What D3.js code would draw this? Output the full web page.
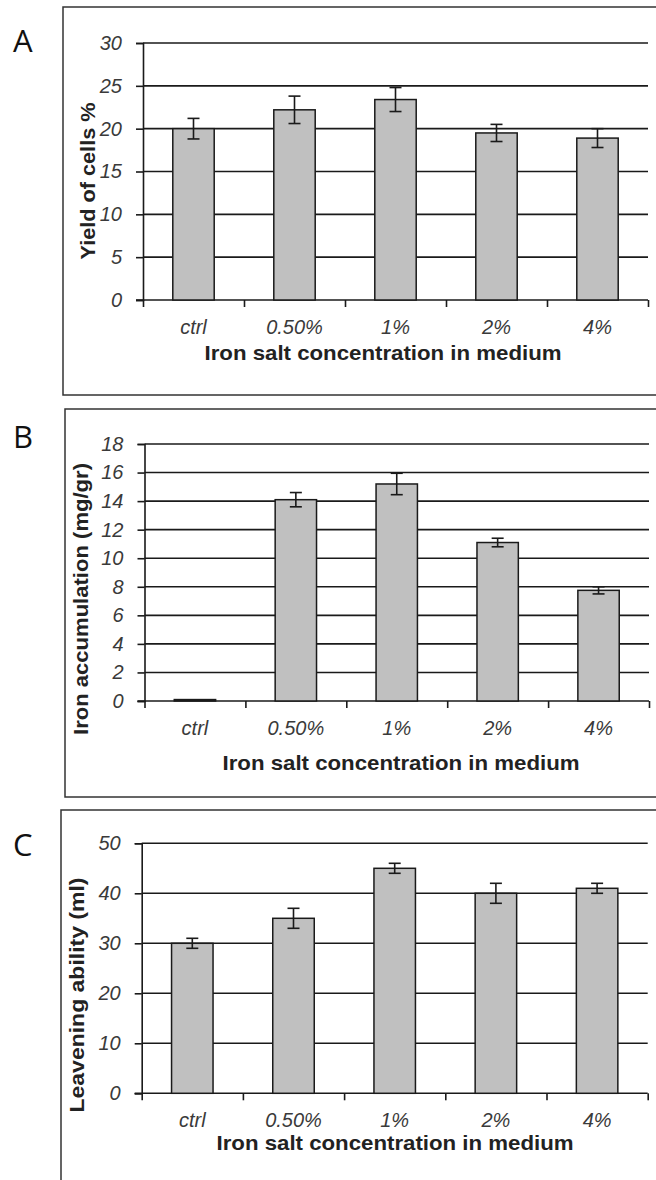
<!DOCTYPE html>
<html>
<head>
<meta charset="utf-8">
<script src="https://cdn.jsdelivr.net/npm/d3@7"></script>
<style>
  html, body { margin: 0; padding: 0; background: #fff; }
  svg { display: block; }
</style>
</head>
<body>
<svg id="chart" width="656" height="1180"></svg>
<script>
// ---------------- DATA ----------------
const categories = ["ctrl", "0.50%", "1%", "2%", "4%"];

const yieldValues = [20.0, 22.2, 23.4, 19.5, 18.9];
const yieldErrors = [1.2, 1.6, 1.4, 1.0, 1.1];
const yieldTicks  = [0, 5, 10, 15, 20, 25, 30];

const ironValues = [0.1, 14.1, 15.2, 11.1, 7.75];
const ironErrors = [0, 0.5, 0.75, 0.3, 0.25];
const ironTicks  = [0, 2, 4, 6, 8, 10, 12, 14, 16, 18];

const leavenValues = [30, 35, 45, 40, 41];
const leavenErrors = [1, 2, 1, 2, 1];
const leavenTicks  = [0, 10, 20, 30, 40, 50];

const xTitle = "Iron salt concentration in medium";

// ---------------- LAYOUT ----------------
const panels = [
  { letter: "A", values: yieldValues, errors: yieldErrors, ticks: yieldTicks,
    yTitle: "Yield of cells %", yTitleLen: 157,
    box: { x: 63, y: 7, h: 388 },
    left: 143, right: 648, top: 43, bottom: 300,
    letterY: 52, xLabelY: 334, xTitleY: 360, xTitleX: 383,
    yTitleX: 95, yTitleY: 181 },
  { letter: "B", values: ironValues, errors: ironErrors, ticks: ironTicks,
    yTitle: "Iron accumulation (mg/gr)", yTitleLen: 272,
    box: { x: 65, y: 409, h: 388 },
    left: 144.5, right: 649, top: 444, bottom: 701,
    letterY: 448, xLabelY: 735, xTitleY: 770, xTitleX: 401,
    yTitleX: 88, yTitleY: 599 },
  { letter: "C", values: leavenValues, errors: leavenErrors, ticks: leavenTicks,
    yTitle: "Leavening ability (ml)", yTitleLen: 235,
    box: { x: 61, y: 810, h: 400 },
    left: 141.7, right: 647.7, top: 843.3, bottom: 1093.3,
    letterY: 856, xLabelY: 1127, xTitleY: 1150, xTitleX: 395,
    yTitleX: 84, yTitleY: 995 }
];

const svg = d3.select("#chart");
const ink = "#1a1a1a";
const FONT = "'Liberation Sans', Arial, sans-serif";

panels.forEach(p => {
  const g = svg.append("g");

  // frame
  g.append("rect")
    .attr("x", p.box.x).attr("y", p.box.y)
    .attr("width", 700).attr("height", p.box.h)
    .attr("fill", "none").attr("stroke", "#333").attr("stroke-width", 1.5);

  // panel letter
  g.append("text")
    .attr("x", 13).attr("y", p.letterY)
    .attr("font-family", "'Open Sans', 'Noto Sans', sans-serif")
    .attr("font-size", 31).attr("fill", "#111")
    .text(p.letter);

  const yMax = d3.max(p.ticks);
  const y = d3.scaleLinear().domain([0, yMax]).range([p.bottom, p.top]);
  const x = d3.scaleBand().domain(categories)
    .range([p.left, p.right]).paddingInner(0.59).paddingOuter(0.295);
  const xb = d3.scaleLinear().domain([0, categories.length]).range([p.left, p.right]);

  // gridlines
  g.append("g").selectAll("line").data(p.ticks.filter(t => t > 0)).join("line")
    .attr("x1", p.left).attr("x2", p.right)
    .attr("y1", d => y(d)).attr("y2", d => y(d))
    .attr("stroke", ink).attr("stroke-width", 1.6);

  // y axis
  const ya = g.append("g").attr("transform", `translate(${p.left},0)`)
    .call(d3.axisLeft(y).tickValues(p.ticks).tickSize(7).tickPadding(14));
  ya.select(".domain").attr("stroke", ink).attr("stroke-width", 1.6);
  ya.selectAll(".tick line").attr("stroke", ink).attr("stroke-width", 1.6);
  ya.selectAll(".tick text")
    .attr("font-family", FONT).attr("font-style", "italic")
    .attr("font-size", 20).attr("fill", "#3a3a3a");

  // x axis tick marks at category boundaries
  const xa = g.append("g").attr("transform", `translate(0,${p.bottom})`)
    .call(d3.axisBottom(xb).tickValues(d3.range(categories.length + 1))
      .tickSize(7).tickFormat(""));
  xa.select(".domain").remove();
  xa.selectAll(".tick line").attr("stroke", ink).attr("stroke-width", 1.6);
  g.append("line")
    .attr("x1", p.left - 7).attr("x2", p.right)
    .attr("y1", p.bottom).attr("y2", p.bottom)
    .attr("stroke", ink).attr("stroke-width", 1.6);

  // x category labels
  g.append("g").selectAll("text").data(categories).join("text")
    .attr("x", d => x(d) + x.bandwidth() / 2)
    .attr("y", p.xLabelY)
    .attr("text-anchor", "middle")
    .attr("font-family", FONT).attr("font-style", "italic")
    .attr("font-size", 20).attr("fill", "#3a3a3a")
    .text(d => d);

  // bars
  const rows = categories.map((c, i) => ({ c, v: p.values[i], e: p.errors[i] }));
  g.append("g").selectAll("rect").data(rows).join("rect")
    .attr("x", d => x(d.c)).attr("width", x.bandwidth())
    .attr("y", d => y(d.v)).attr("height", d => y(0) - y(d.v))
    .attr("fill", "#c0c0c0").attr("stroke", ink).attr("stroke-width", 1.5);

  // error bars
  const eb = g.append("g").selectAll("g").data(rows.filter(d => d.e > 0)).join("g")
    .attr("stroke", ink).attr("stroke-width", 1.6);
  eb.append("line")
    .attr("x1", d => x(d.c) + x.bandwidth() / 2).attr("x2", d => x(d.c) + x.bandwidth() / 2)
    .attr("y1", d => y(d.v + d.e)).attr("y2", d => y(d.v - d.e));
  [1, -1].forEach(s => {
    eb.append("line")
      .attr("x1", d => x(d.c) + x.bandwidth() / 2 - 6)
      .attr("x2", d => x(d.c) + x.bandwidth() / 2 + 6)
      .attr("y1", d => y(d.v + s * d.e)).attr("y2", d => y(d.v + s * d.e));
  });

  // x title
  g.append("text")
    .attr("x", p.xTitleX).attr("y", p.xTitleY)
    .attr("text-anchor", "middle")
    .attr("font-family", FONT).attr("font-weight", "bold")
    .attr("font-size", 21).attr("fill", "#222")
    .attr("textLength", 357).attr("lengthAdjust", "spacingAndGlyphs")
    .text(xTitle);

  // y title
  g.append("text")
    .attr("transform", `translate(${p.yTitleX},${p.yTitleY}) rotate(-90)`)
    .attr("text-anchor", "middle")
    .attr("font-family", FONT).attr("font-weight", "bold")
    .attr("font-size", 21).attr("fill", "#222")
    .attr("textLength", p.yTitleLen).attr("lengthAdjust", "spacingAndGlyphs")
    .text(p.yTitle);
});
</script>
</body>
</html>
